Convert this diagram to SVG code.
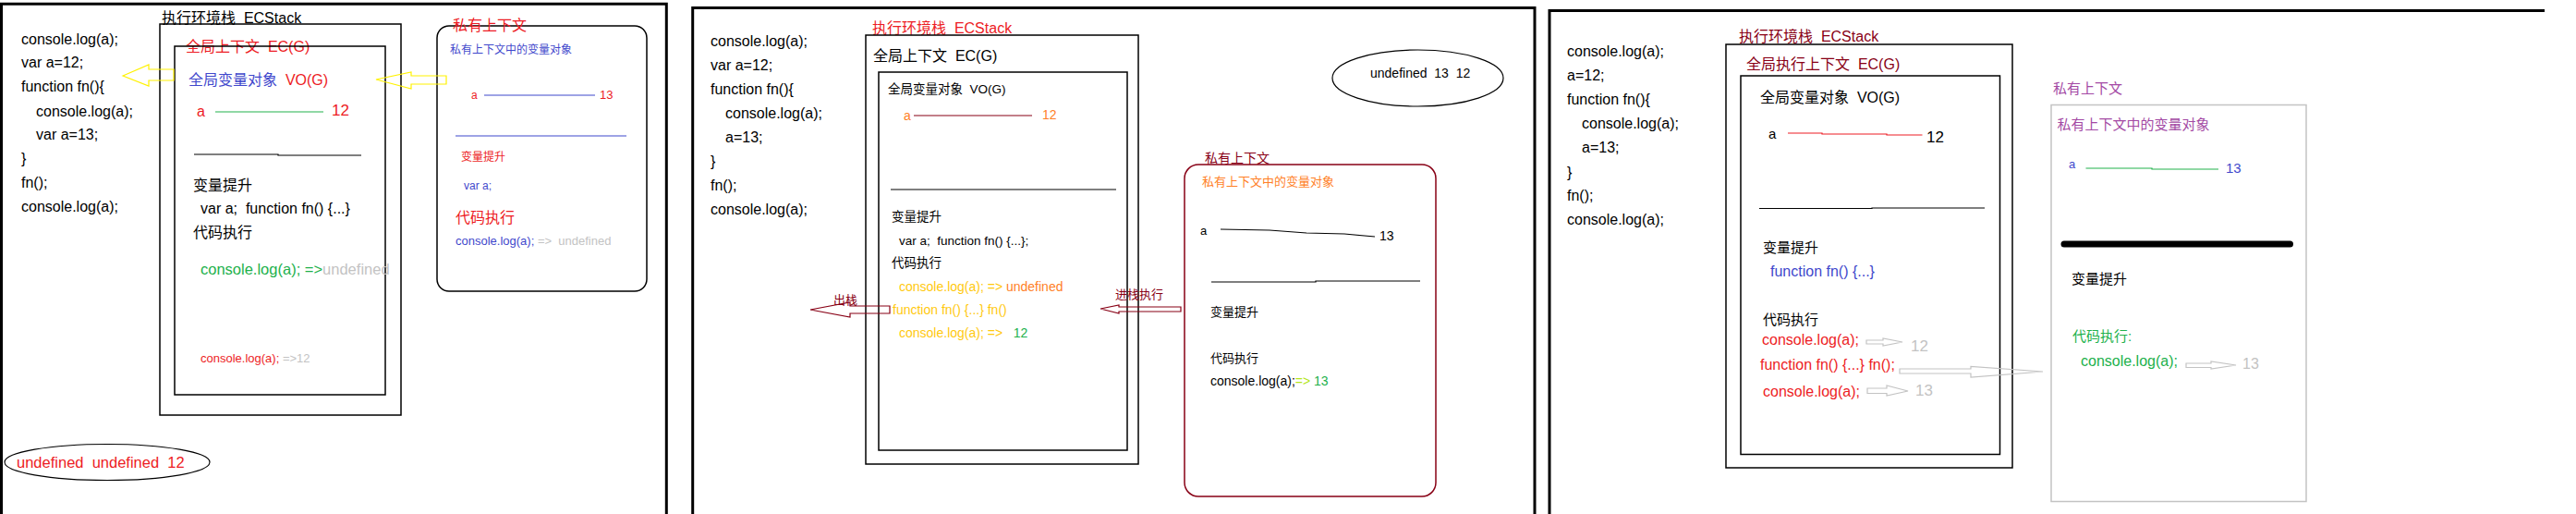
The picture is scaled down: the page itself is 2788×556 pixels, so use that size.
<svg xmlns="http://www.w3.org/2000/svg" width="2788" height="556" viewBox="0 0 2788 556">
<style>
text{font-family:"Liberation Sans","Noto Sans CJK SC",sans-serif;white-space:pre;}
.blk{fill:#000}
.red{fill:#ed1c24}
.blu{fill:#3f48cc}
.drd{fill:#880015}
.org{fill:#ff7f27}
.ylw{fill:#ffc90e}
.grn{fill:#22b14c}
.gry{fill:#c3c3c3}
.pur{fill:#a349a4}
.lim{fill:#b5e61d}
.panel{fill:none;stroke:#000;stroke-width:3}
.box{fill:none;stroke:#000;stroke-width:1.5}
.c16{font-size:16px}
.c14{font-size:14px}
.c13{font-size:13px}
.c12{font-size:12px}
.harrow{fill:none;stroke-width:1.2;stroke-linejoin:miter}
</style>
<rect width="2788" height="556" fill="#fff"/>

<!-- Panel frames -->
<g id="panel-frames">
<path class="panel" d="M1.5,556 V4.3 H721.3 V556"/>
<path class="panel" d="M749.7,556 V8.5 H1661 V556"/>
<path class="panel" d="M1677,556 V11.5 H2754"/>
</g>

<!-- ================= PANEL 1 ================= -->
<g id="p1-code" class="c16 blk">
<text x="23" y="48">console.log(a);</text>
<text x="23" y="73">var a=12;</text>
<text x="23" y="99">function fn(){</text>
<text x="39" y="126">console.log(a);</text>
<text x="39" y="151">var a=13;</text>
<text x="23" y="177">}</text>
<text x="23" y="203">fn();</text>
<text x="23" y="229">console.log(a);</text>
</g>

<g id="p1-ecstack">
<text x="175" y="25" class="c16 blk">执行环境栈  ECStack</text>
<rect class="box" x="173" y="26" width="261" height="423"/>
</g>

<g id="p1-ecg">
<text x="201" y="56" class="c16 red">全局上下文  EC(G)</text>
<rect class="box" x="189" y="50" width="228" height="377"/>
<text x="204" y="91.5" class="c16"><tspan class="blu">全局变量对象  </tspan><tspan class="red">VO(G)</tspan></text>
<text x="213" y="126" class="c16 red">a</text>
<text x="359" y="125" class="red" font-size="17">12</text>
<text x="209" y="206" class="c16 blk">变量提升</text>
<text x="217" y="231" class="c16 blk">var a;  function fn() {...}</text>
<text x="209" y="257" class="c16 blk">代码执行</text>
<text x="217" y="297" font-size="16.5"><tspan class="grn">console.log(a); =&gt;</tspan><tspan class="gry">undefined</tspan></text>
<text x="217" y="392" class="c13"><tspan class="red">console.log(a); </tspan><tspan class="gry">=&gt;12</tspan></text>
</g>

<g id="p1-private">
<rect x="473" y="28" width="227" height="287" rx="13" ry="13" fill="none" stroke="#000" stroke-width="1.5"/>
<text x="490" y="33" class="c16 red">私有上下文</text>
<text x="487" y="58" class="c12 blu">私有上下文中的变量对象</text>
<text x="510" y="107" class="c12 red">a</text>
<text x="649" y="107" class="c13 red">13</text>
<text x="499" y="174" class="c12 red">变量提升</text>
<text x="502" y="205" class="c12 blu">var a;</text>
<text x="493" y="241" class="c16 red">代码执行</text>
<text x="493" y="265" class="c13"><tspan class="blu">console.log(a); </tspan><tspan class="gry">=&gt;  undefined</tspan></text>
</g>

<g id="p1-result">
<ellipse cx="116" cy="500" rx="111" ry="19.5" fill="none" stroke="#000" stroke-width="1.2"/>
<text x="18" y="506" class="red" font-size="16.5">undefined  undefined  12</text>
</g>

<!-- ================= PANEL 2 ================= -->
<g id="p2-code" class="c16 blk">
<text x="769" y="50">console.log(a);</text>
<text x="769" y="75.5">var a=12;</text>
<text x="769" y="102">function fn(){</text>
<text x="785" y="128">console.log(a);</text>
<text x="785" y="153.5">a=13;</text>
<text x="769" y="180">}</text>
<text x="769" y="206">fn();</text>
<text x="769" y="232">console.log(a);</text>
</g>

<g id="p2-ecstack">
<text x="944" y="35.5" class="c16 red">执行环境栈  ECStack</text>
<rect class="box" x="937" y="38" width="295" height="464"/>
</g>

<g id="p2-ecg">
<text x="945" y="66" class="c16 blk">全局上下文  EC(G)</text>
<rect class="box" x="951" y="78" width="269" height="409"/>
<text x="961" y="101" font-size="13.5" class="blk">全局变量对象  VO(G)</text>
<text x="978" y="130" class="c14 org">a</text>
<text x="1128" y="129" class="c14 org">12</text>
<text x="965" y="239" font-size="13.5" class="blk">变量提升</text>
<text x="973" y="265" font-size="13.5" class="blk">var a;  function fn() {...};</text>
<text x="965" y="289" font-size="13.5" class="blk">代码执行</text>
<text x="973" y="315" class="c14"><tspan class="ylw">console.log(a); =&gt; </tspan><tspan class="org">undefined</tspan></text>
<text x="966" y="340" class="c14 ylw">function fn() {...} fn()</text>
<text x="973" y="365" class="c14"><tspan class="ylw">console.log(a); =&gt;   </tspan><tspan class="grn">12</tspan></text>
</g>

<g id="p2-private">
<rect x="1282" y="178" width="272" height="359" rx="15" ry="15" fill="none" stroke="#880015" stroke-width="1.5"/>
<text x="1304" y="176" class="c14 drd">私有上下文</text>
<text x="1301" y="201" class="c13 org">私有上下文中的变量对象</text>
<text x="1299" y="254" class="c13 blk">a</text>
<text x="1493" y="260" class="c14 blk">13</text>
<text x="1310" y="342" class="c13 blk">变量提升</text>
<text x="1310" y="392" class="c13 blk">代码执行</text>
<text x="1310" y="417" class="c14"><tspan class="blk">console.log(a);</tspan><tspan class="lim">=&gt; </tspan><tspan class="grn">13</tspan></text>
</g>

<g id="p2-result">
<ellipse cx="1534.5" cy="84.5" rx="92.5" ry="30.5" fill="none" stroke="#000" stroke-width="1.2"/>
<text x="1483" y="84" class="c14 blk">undefined  13  12</text>
</g>

<g id="p2-labels">
<text x="902" y="329" class="c13 drd">出栈</text>
<text x="1207" y="323" class="c13 drd">进栈执行</text>
</g>

<!-- ================= PANEL 3 ================= -->
<g id="p3-code" class="c16 blk">
<text x="1696" y="61">console.log(a);</text>
<text x="1696" y="87">a=12;</text>
<text x="1696" y="113">function fn(){</text>
<text x="1712" y="139">console.log(a);</text>
<text x="1712" y="165">a=13;</text>
<text x="1696" y="191.5">}</text>
<text x="1696" y="217">fn();</text>
<text x="1696" y="243">console.log(a);</text>
</g>

<g id="p3-ecstack">
<text x="1882" y="45" class="c16 drd">执行环境栈  ECStack</text>
<rect class="box" x="1868" y="48" width="310" height="458"/>
</g>

<g id="p3-ecg">
<text x="1890" y="74.5" class="c16 drd">全局执行上下文  EC(G)</text>
<rect class="box" x="1884" y="82" width="280.5" height="409.5"/>
<text x="1905" y="111" class="c16 blk">全局变量对象  VO(G)</text>
<text x="1914" y="150" font-size="15" class="blk">a</text>
<text x="2085" y="153.5" font-size="17" class="blk">12</text>
<text x="1908" y="273" font-size="15" class="blk">变量提升</text>
<text x="1916" y="299" class="c16 blu">function fn() {...}</text>
<text x="1908" y="351" font-size="15" class="blk">代码执行</text>
<text x="1907" y="373" class="c16 red">console.log(a);</text>
<text x="2068" y="379.5" font-size="17" class="gry">12</text>
<text x="1905" y="400" class="c16 red">function fn() {...} fn();</text>
<text x="1908" y="429" class="c16 red">console.log(a);</text>
<text x="2073" y="428" font-size="17" class="gry">13</text>
</g>

<g id="p3-private">
<rect x="2220" y="113.5" width="276" height="429" fill="none" stroke="#c3c3c3" stroke-width="1.5"/>
<text x="2222" y="101" font-size="15" class="pur">私有上下文</text>
<text x="2226.5" y="140" font-size="15" class="pur">私有上下文中的变量对象</text>
<text x="2239" y="181.5" class="c13 blu">a</text>
<text x="2409" y="187" font-size="15" class="blu">13</text>
<text x="2242" y="307" font-size="15" class="blk">变量提升</text>
<text x="2243" y="369" font-size="15" class="grn">代码执行:</text>
<text x="2252" y="395.5" class="c16 grn">console.log(a);</text>
<text x="2427" y="399" class="c16 gry">13</text>
</g>

<!-- ================= CONNECTORS ================= -->
<g id="connectors">
<!-- panel 1 -->
<polygon class="harrow" stroke="#fff200" points="133,82 161,70 161,75 188,75 188,87 161,87 161,93"/>
<polygon class="harrow" stroke="#fff200" points="407,86 445,78 445,82 483,82 483,91 445,91 445,96"/>
<line x1="233" y1="121" x2="350" y2="121" stroke="#22b14c" stroke-width="1.2"/>
<polyline points="210,167 301,167 301,168 391,168" fill="none" stroke="#000" stroke-width="1.2"/>
<line x1="524" y1="103" x2="644" y2="103" stroke="#3f48cc" stroke-width="1.2"/>
<line x1="493" y1="147" x2="678" y2="147" stroke="#3f48cc" stroke-width="1.2"/>
<!-- panel 2 -->
<line x1="989" y1="125" x2="1117" y2="125" stroke="#880015" stroke-width="1.2"/>
<line x1="964" y1="205" x2="1208" y2="205" stroke="#000" stroke-width="1.2"/>
<polygon class="harrow" stroke="#880015" points="877,335 920,327 920,331 963,331 963,339 920,339 920,343"/>
<polygon class="harrow" stroke="#880015" points="1191,334 1211,330 1211,332 1278,332 1278,337 1211,337 1211,339"/>
<polyline points="1321,248 1374,249 1414,252 1455,253 1488,256" fill="none" stroke="#000" stroke-width="1.2"/>
<polyline points="1311,305 1424,305 1424,304 1537,304" fill="none" stroke="#000" stroke-width="1.2"/>
<!-- panel 3 -->
<polyline points="1935,144 1972,144 1972,145 2042,145 2042,146 2080.5,146" fill="none" stroke="#ed1c24" stroke-width="1.2"/>
<polyline points="1904,225.5 2026,225.5 2026,225 2148,225" fill="none" stroke="#000" stroke-width="1.2"/>
<polygon class="harrow" stroke="#c3c3c3" points="2059,370 2038,366 2038,368 2020,368 2020,372 2038,372 2038,374"/>
<polygon class="harrow" stroke="#c3c3c3" points="2211,402 2133,396.5 2133,399 2056,399 2056,404 2133,404 2133,408"/>
<polygon class="harrow" stroke="#c3c3c3" points="2065,423 2042,417 2042,420 2021,420 2021,425.5 2042,425.5 2042,428"/>
<polyline points="2257.5,182 2329,182 2329,183 2401,183" fill="none" stroke="#22b14c" stroke-width="1.2"/>
<line x1="2234" y1="264" x2="2478.5" y2="264" stroke="#000" stroke-width="7" stroke-linecap="round"/>
<polygon class="harrow" stroke="#c3c3c3" points="2420,395 2393,391 2393,393 2366,393 2366,397.5 2393,397.5 2393,399"/>
</g>
</svg>
